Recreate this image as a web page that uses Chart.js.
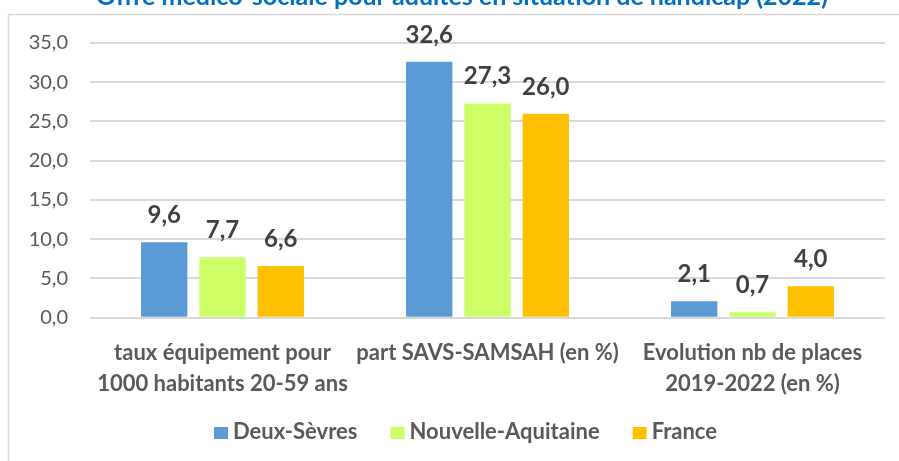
<!DOCTYPE html>
<html>
<head>
<meta charset="utf-8">
<script src="https://cdn.jsdelivr.net/npm/chart.js@4/dist/chart.umd.min.js"></script>
<style>
  html, body { margin: 0; padding: 0; background: #ffffff; }
  #wrap { position: relative; width: 899px; height: 461px; overflow: hidden; }
  canvas { display: block; }
</style>
</head>
<body>
<div id="wrap"><canvas id="c" width="899" height="461"></canvas></div>
<script>
const chartTitle = "Offre médico-sociale pour adultes en situation de handicap (2022)";
const categories = [
  ["taux équipement pour", "1000 habitants 20-59 ans"],
  "part SAVS-SAMSAH (en %)",
  ["Evolution nb de places", "2019-2022 (en %)"]
];
const seriesNames = ["Deux-Sèvres", "Nouvelle-Aquitaine", "France"];
const deuxSevres = [9.6, 32.6, 2.1];
const nouvelleAquitaine = [7.7, 27.3, 0.7];
const france = [6.6, 26.0, 4.0];
const yTicks = [0, 5, 10, 15, 20, 25, 30, 35];

const colors = ["#5B9BD5", "#CCFF66", "#FFC000"];
const FONT = "Lato, 'Open Sans', sans-serif";
const fmt = v => v.toFixed(1).replace(".", ",");

const framePlugin = {
  id: "frame",
  beforeDraw(chart) {
    const ctx = chart.ctx;
    ctx.save();
    ctx.strokeStyle = "#D9D9D9";
    ctx.lineWidth = 1.5;
    ctx.strokeRect(8.5, 14.5, 1000, 1000);
    ctx.restore();
  },
  afterDraw(chart) {
    const ctx = chart.ctx;
    ctx.save();
    // title
    ctx.fillStyle = "#0070C0";
    ctx.font = "bold 25px " + FONT;
    ctx.textAlign = "center";
    ctx.textBaseline = "alphabetic";
    ctx.fillText(chartTitle, 462, 5);
    // legend
    ctx.font = "bold 22px " + FONT;
    ctx.textAlign = "left";
    ctx.textBaseline = "alphabetic";
    const boxW = 14, boxH = 12, gapText = 5, gapItem = 33, base = 439;
    const widths = seriesNames.map(n => ctx.measureText(n).width);
    let total = 0;
    widths.forEach((w, i) => { total += boxW + gapText + w + (i < widths.length - 1 ? gapItem : 0); });
    let x = 465.5 - total / 2;
    seriesNames.forEach((n, i) => {
      ctx.fillStyle = colors[i];
      ctx.fillRect(x, base - boxH, boxW, boxH);
      x += boxW + gapText;
      ctx.fillStyle = "#595959";
      ctx.fillText(n, x, base);
      x += widths[i] + gapItem;
    });
    ctx.restore();
  }
};

const valueLabels = {
  id: "valueLabels",
  afterDatasetsDraw(chart) {
    const ctx = chart.ctx;
    ctx.save();
    ctx.fillStyle = "#404040";
    ctx.font = "bold 24px " + FONT;
    ctx.textAlign = "center";
    ctx.textBaseline = "alphabetic";
    chart.data.datasets.forEach((ds, i) => {
      chart.getDatasetMeta(i).data.forEach((el, j) => {
        ctx.fillText(fmt(ds.data[j]), el.x, el.y - 19);
      });
    });
    ctx.restore();
  }
};

new Chart(document.getElementById("c"), {
  type: "bar",
  data: {
    labels: categories,
    datasets: [
      { label: seriesNames[0], data: deuxSevres, backgroundColor: colors[0] },
      { label: seriesNames[1], data: nouvelleAquitaine, backgroundColor: colors[1] },
      { label: seriesNames[2], data: france, backgroundColor: colors[2] }
    ]
  },
  options: {
    responsive: false,
    animation: false,
    events: [],
    layout: { padding: { top: 43, right: 14, bottom: 43.3, left: 0 } },
    datasets: { bar: { categoryPercentage: 0.66, barPercentage: 0.795 } },
    scales: {
      x: {
        grid: { display: false },
        border: { display: false },
        ticks: {
          color: "#595959",
          font: { family: FONT, size: 22, weight: "bold", lineHeight: 1.41 },
          padding: 12,
          maxRotation: 0,
          autoSkip: false
        },
        afterFit(s) { s.height = 100; }
      },
      y: {
        min: 0, max: 35,
        afterBuildTicks(s) { s.ticks = yTicks.map(v => ({ value: v })); },
        grid: { color: "#D9D9D9", lineWidth: 2, drawTicks: false },
        border: { display: false },
        ticks: {
          color: "#595959",
          font: { family: FONT, size: 20 },
          padding: 22,
          callback: v => fmt(v)
        },
        afterFit(s) { s.width = 90; }
      }
    },
    plugins: {
      title: { display: false },
      tooltip: { enabled: false },
      legend: { display: false }
    }
  },
  plugins: [framePlugin, valueLabels]
});
</script>
</body>
</html>
